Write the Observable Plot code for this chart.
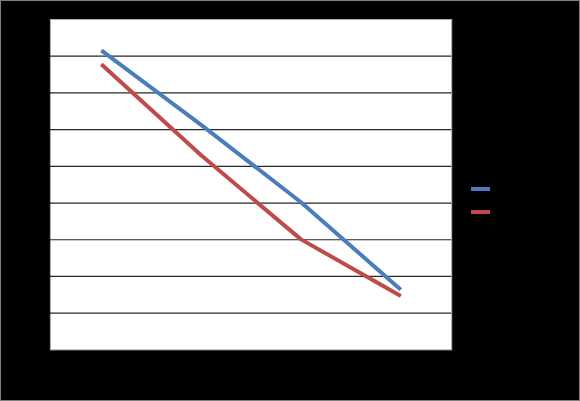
<!DOCTYPE html>
<html>
<head>
<meta charset="utf-8">
<script src="https://cdn.jsdelivr.net/npm/d3@7"></script>
<script src="https://cdn.jsdelivr.net/npm/@observablehq/plot@0.6"></script>
<style>
  html, body { margin: 0; padding: 0; background: #000; }
  #wrap { position: relative; width: 580px; height: 401px; box-sizing: border-box; border: 1px solid #7f7f7f; background: #000; overflow: hidden; }
  #chart { position: absolute; left: -1px; top: -1px; }
  .lg { position: absolute; width: 19px; height: 4px; }
</style>
</head>
<body>
<div id="wrap"><div id="chart"></div></div>
<script>
const categories = ["1", "2", "3", "4"];
const seriesNames = ["Series1", "Series2"];
const series1 = [8.16, 6.13, 4.02, 1.64];
const series2 = [7.78, 5.30, 3.01, 1.47];
const gridTicks = [1, 2, 3, 4, 5, 6, 7, 8];
const colors = ["#4a7ebb", "#be4b48"];

const data = [];
categories.forEach((c, i) => {
  data.push({cat: c, value: series1[i], series: seriesNames[0]});
  data.push({cat: c, value: series2[i], series: seriesNames[1]});
});

const plot = Plot.plot({
  width: 580,
  height: 401,
  marginLeft: 50,
  marginRight: 128,
  marginTop: 19,
  marginBottom: 51,
  style: {background: "transparent"},
  x: {type: "point", domain: categories, padding: 0.5, axis: null},
  y: {domain: [0, 9], axis: null},
  color: {domain: seriesNames, range: colors},
  marks: [
    Plot.frame({fill: "white", stroke: "#b0b0b0"}),
    Plot.ruleY(gridTicks, {stroke: "#000", strokeWidth: 1.2, strokeOpacity: 0.85}),
    Plot.line(data, {x: "cat", y: "value", z: "series", stroke: "series", strokeWidth: 4, strokeLinecap: "butt", strokeLinejoin: "round"})
  ]
});
document.getElementById("chart").appendChild(plot);

const wrap = document.getElementById("wrap");
seriesNames.forEach((s, i) => {
  const d = document.createElement("div");
  d.className = "lg";
  d.style.background = colors[i];
  d.style.left = (471 - 1) + "px";
  d.style.top = (187 + i * 22.5 - 1) + "px";
  d.title = s;
  wrap.appendChild(d);
});
</script>
</body>
</html>
